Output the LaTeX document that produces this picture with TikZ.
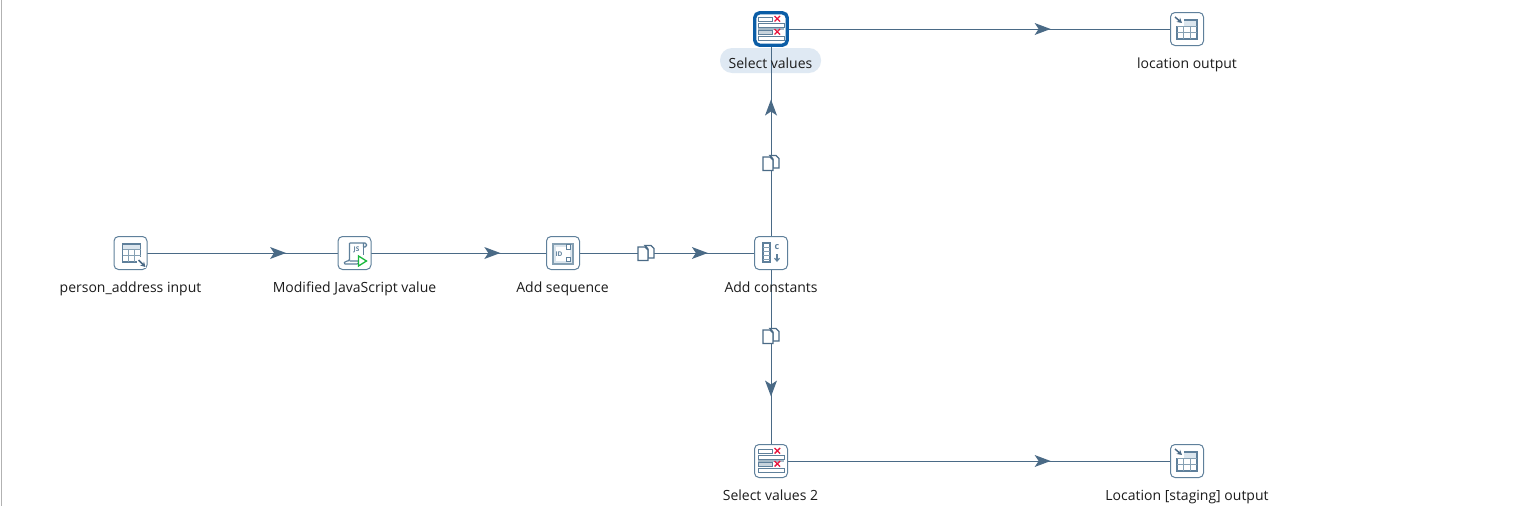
\documentclass[tikz,border=0pt]{standalone}
\usepackage{fontspec}
\setmainfont{Open Sans}
\usetikzlibrary{decorations.markings,arrows.meta,backgrounds}
\pgfdeclarelayer{pilllayer}
\pgfdeclarelayer{linelayer}
\pgfsetlayers{pilllayer,linelayer,main}
\definecolor{hop}{HTML}{4A6A86}
\definecolor{ico}{HTML}{5F809B}
\definecolor{icolight}{HTML}{DCE6EE}
\definecolor{grid}{HTML}{86A0B3}
\definecolor{sel}{HTML}{0B5DA6}
\definecolor{pillc}{HTML}{DFE9F3}
\definecolor{redx}{HTML}{E8173F}
\definecolor{greenp}{HTML}{19B83C}
\definecolor{txt}{HTML}{1C1C1C}
\tikzset{
  x=1pt,y=-1pt,
  stepbox/.style={draw=ico,line width=1pt,fill=white,rounded corners=4.5pt,minimum width=33pt,minimum height=33pt,inner sep=0pt,outer sep=0pt},
  selbox/.style={stepbox,draw=sel,line width=3.4pt,minimum width=32.5pt,minimum height=32.5pt,rounded corners=5pt},
  steplabel/.style={anchor=base,font=\fontsize{14}{16}\selectfont,text=txt,inner sep=0pt},
  hopline/.style={draw=hop,line width=0.9pt},
  midarrow/.style={postaction={decorate,decoration={markings,mark=at position #1 with {\fill[hop] (0.5pt,0pt)--(-15.5pt,6pt)--(-11.5pt,0pt)--(-15.5pt,-6pt)--cycle;}}}},
  ic/.style={draw=ico,line width=1.1pt},
  icth/.style={draw=grid,line width=0.8pt},
  tablein/.pic={
    \fill[icolight] (-8,-9) rectangle (10,-4);
    \draw[ic] (-8,-9) rectangle (10,9);
    \draw[icth] (-8,-4)--(10,-4) (-8,2)--(10,2) (-2,-4)--(-2,9) (4,-4)--(4,9);
    \fill[white] (6,4) rectangle (15,15);
    \draw[ic,draw=hop,line width=1.5pt,-{Stealth[length=5pt,width=5.5pt]}] (8,7)--(15,14);
  },
  tableout/.pic={
    \fill[icolight] (-3,-9) rectangle (10,-3);
    \draw[ic] (-3,-9)--(10,-9)--(10,10)--(-10,10)--(-10,-3);
    \draw[icth] (-10,-3)--(10,-3) (-10,3)--(10,3) (-4,-3)--(-4,10) (3,-3)--(3,10);
    \draw[ic,draw=hop,line width=1.5pt,-{Stealth[length=5pt,width=5.5pt]}] (-12,-12)--(-5,-6);
  },
  jsicon/.pic={
    \draw[ic,rounded corners=1.5pt] (-5,-10)--(12,-10)--(12,-6)--(9,-6) (9,-10)--(9,-6) (-5,-10)--(-5,8)--(-9,8)--(-11,11)--(4,11)--(5,8)--(-5,8);
    \draw[ic,line width=.9pt] (9,-6)--(9,2);
    \node[text=ico,font=\fontsize{6.5}{7}\selectfont\bfseries,inner sep=0pt] at (2,-3) {JS};
    \draw[greenp,line width=1.3pt,fill=white] (4,3)--(12,8)--(4,13)--cycle;
  },
  seqicon/.pic={
    \draw[ic,draw=grid,fill=icolight] (-10,-9) rectangle (10,11);
    \fill[white] (-7,-6) rectangle (7,8);
    \node[text=ico,font=\fontsize{6.5}{7}\selectfont\bfseries,inner sep=0pt] at (-4,1) {ID};
    \draw[ic,line width=.8pt,fill=white] (3,-9) rectangle (7,-4);
    \draw[ic,line width=.8pt,fill=white] (3,4) rectangle (7,8);
  },
  consticon/.pic={
    \draw[ic] (-8,-10) rectangle (-1,9);
    \draw[icth] (-8,-6)--(-1,-6) (-8,-2)--(-1,-2) (-8,2)--(-1,2) (-8,6)--(-1,6);
    \node[text=ico,font=\fontsize{9}{9}\selectfont\bfseries,inner sep=0pt] at (6,-6) {c};
    \draw[ic,-{Straight Barb[length=3pt,width=5pt]}] (6,1)--(6,9);
  },
  selicon/.pic={
    \fill[grid!75] (-13,-2) rectangle (13,1);
    \fill[grid!45] (-13,1) rectangle (1,5);
    \draw[ic,line width=.9pt] (-13,-12) rectangle (1,-8);
    \draw[ic,line width=.9pt,fill=white] (-13,-6) rectangle (13,-2);
    \draw[ic,line width=.9pt] (-13,1) rectangle (1,5);
    \draw[ic,line width=.9pt] (-13,7) rectangle (13,11);
    \draw[redx,line width=1.4pt] (3.5,-13)--(9,-7.5) (9,-13)--(3.5,-7.5) (3.5,0)--(9,5.5) (9,0)--(3.5,5.5);
  },
  copyhop/.style={inner sep=0pt,outer sep=0pt,minimum size=16pt},
  copyicon/.pic={
    \draw[hop,line width=1.3pt,fill=white] (-1,-7.5)--(5,-7.5)--(8,-4.5)--(8,5)--(2,5)--(2,-4)--cycle;
    \draw[hop,line width=1.3pt,fill=white] (-8,-6)--(-1,-6)--(2,-3)--(2,7.5)--(-8,7.5)--cycle;
  }
}
\begin{document}
\begin{tikzpicture}
\useasboundingbox (0,0) rectangle (1527,506);

\node[stepbox] (input) at (130.5,253) {};
\node[stepbox] (js) at (354.5,253) {};
\node[stepbox] (seq) at (563,253) {};
\node[stepbox] (const) at (771,253) {};
\node[selbox] (sel1) at (771,29) {};
\node[stepbox] (out1) at (1187,29) {};
\node[stepbox] (sel2) at (771,461) {};
\node[stepbox] (out2) at (1187,461) {};

\pic at (input) {tablein};
\pic at (js) {jsicon};
\pic at (seq) {seqicon};
\pic at (const) {consticon};
\pic at (sel1) {selicon};
\pic at (out1) {tableout};
\pic at (sel2) {selicon};
\pic at (out2) {tableout};

\node[steplabel] (l1) at (130.5,292) {person\_address input};
\node[steplabel] (l2) at (354.5,292) {Modified JavaScript value};
\node[steplabel] (l3) at (562.5,292) {Add sequence};
\node[steplabel] (l4) at (771,292) {Add constants};
\node[steplabel] (l5) at (770.5,68) {Select values};
\node[steplabel] (l6) at (1187,68) {location output};
\node[steplabel] (l7) at (770.5,500) {Select values 2};
\node[steplabel] (l8) at (1187,500) {Location [staging] output};

\node[copyhop] (c1) at (646,253) {};
\node[copyhop] (c2) at (771,163) {};
\node[copyhop] (c3) at (771,336) {};
\pic at (c1) {copyicon};
\pic at (c2) {copyicon};
\pic at (c3) {copyicon};

\begin{pgfonlayer}{pilllayer}
\fill[white] (0,0) rectangle (1527,506);
\draw[color=black!30,line width=1pt] (1,0)--(1,506);
\fill[pillc,rounded corners=12pt] (720,48) rectangle (821,73);
\end{pgfonlayer}
\begin{pgfonlayer}{linelayer}
\path[hopline,midarrow=0.692] (input.center)--(js.center);
\path[hopline,midarrow=0.697] (js.center)--(seq.center);
\path[hopline,midarrow=0.694] (seq.center)--(const.center);
\path[hopline,midarrow=0.683] (const.center)--(sel1.center);
\path[hopline,midarrow=0.6875] (const.center)--(sel2.center);
\path[hopline,midarrow=0.671] (sel1.center)--(out1.center);
\path[hopline,midarrow=0.671] (sel2.center)--(out2.center);
\end{pgfonlayer}
\end{tikzpicture}
\end{document}
